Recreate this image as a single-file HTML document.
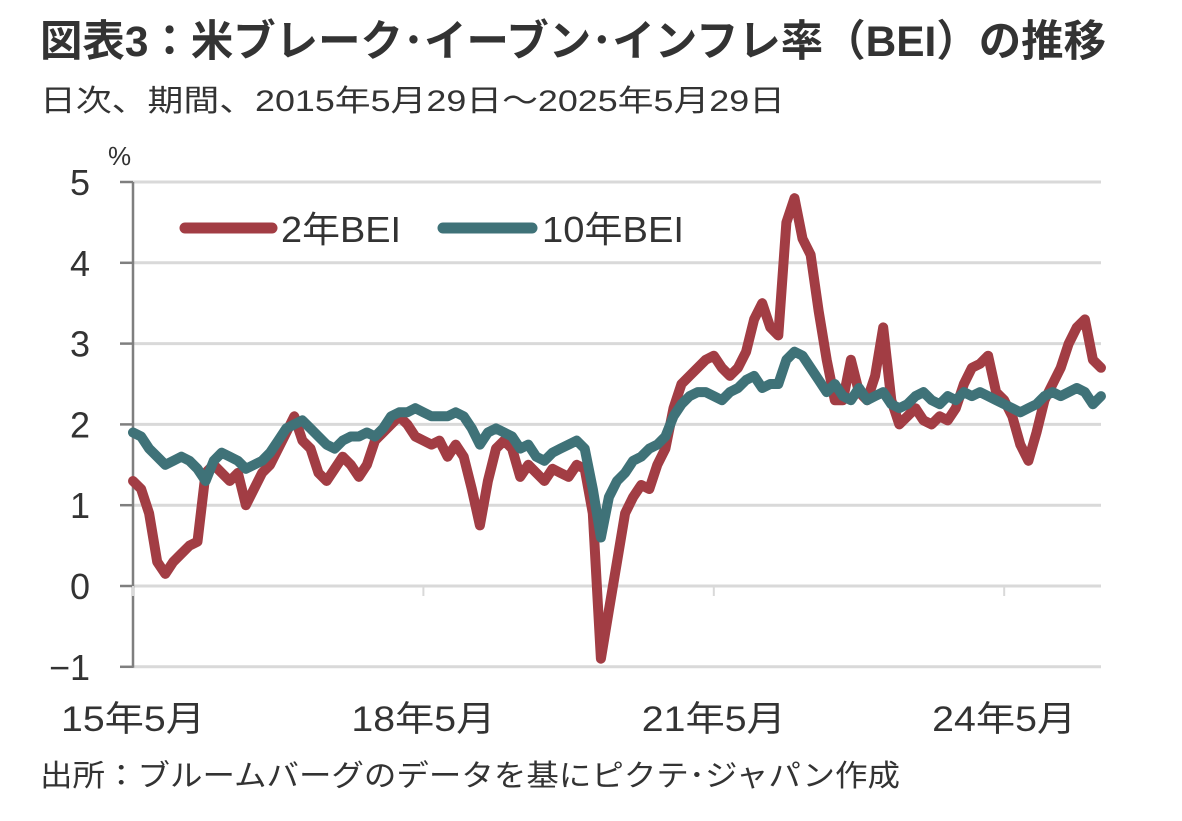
<!DOCTYPE html>
<html><head><meta charset="utf-8"><style>
body{margin:0;background:#fff;width:1182px;height:816px;overflow:hidden;font-family:"Liberation Sans","Noto Sans CJK JP",sans-serif;color:#222}
</style></head><body>
<svg width="1182" height="816" viewBox="0 0 1182 816">
<text x="40" y="56" font-size="43" font-weight="bold" fill="#333" textLength="1066" lengthAdjust="spacingAndGlyphs" font-family="Liberation Sans, Noto Sans CJK JP, sans-serif">図表3：米ブレーク･イーブン･インフレ率（BEI）の推移</text>
<text x="40" y="111" font-size="30" fill="#333" textLength="745" lengthAdjust="spacingAndGlyphs" font-family="Liberation Sans, Noto Sans CJK JP, sans-serif">日次、期間、2015年5月29日～2025年5月29日</text>
<g id="grid"></g><g id="axes"></g><g id="series"></g>
<text x="108" y="165" font-size="26" fill="#333">%</text>
<g>
<line x1="185" y1="228" x2="272" y2="228" stroke="#A23D44" stroke-width="11" stroke-linecap="round"/>
<text x="281" y="242" font-size="36" fill="#333" textLength="120" lengthAdjust="spacingAndGlyphs" font-family="Liberation Sans, Noto Sans CJK JP, sans-serif">2年BEI</text>
<line x1="443" y1="228" x2="532" y2="228" stroke="#3F7278" stroke-width="11" stroke-linecap="round"/>
<text x="542" y="242" font-size="36" fill="#333" textLength="142" lengthAdjust="spacingAndGlyphs" font-family="Liberation Sans, Noto Sans CJK JP, sans-serif">10年BEI</text>
</g>
<text x="40" y="786" font-size="30" fill="#333" textLength="860" lengthAdjust="spacingAndGlyphs" font-family="Liberation Sans, Noto Sans CJK JP, sans-serif">出所：ブルームバーグのデータを基にピクテ･ジャパン作成</text>
</svg>
<script>
const yTicks=[5,4,3,2,1,0,-1];
const xTickLabels=["15年5月","18年5月","21年5月","24年5月"];
const xTickMonths=[0,36,72,108];
const bei2y=[1.3,1.2,0.9,0.3,0.15,0.3,0.4,0.5,0.55,1.4,1.5,1.4,1.3,1.4,1.0,1.2,1.4,1.5,1.7,1.9,2.1,1.8,1.7,1.4,1.3,1.45,1.6,1.5,1.35,1.5,1.8,1.9,2.0,2.1,2.0,1.85,1.8,1.75,1.8,1.6,1.75,1.6,1.2,0.75,1.3,1.7,1.8,1.7,1.35,1.5,1.4,1.3,1.45,1.4,1.35,1.5,1.45,0.9,-0.9,-0.3,0.3,0.9,1.1,1.25,1.2,1.5,1.7,2.2,2.5,2.6,2.7,2.8,2.85,2.7,2.6,2.7,2.9,3.3,3.5,3.2,3.1,4.5,4.8,4.3,4.1,3.4,2.8,2.3,2.3,2.8,2.4,2.3,2.6,3.2,2.3,2.0,2.1,2.2,2.05,2.0,2.1,2.05,2.2,2.5,2.7,2.75,2.85,2.4,2.3,2.1,1.75,1.55,1.9,2.3,2.5,2.7,3.0,3.2,3.3,2.8,2.7];
const bei10y=[1.9,1.85,1.7,1.6,1.5,1.55,1.6,1.55,1.45,1.3,1.55,1.65,1.6,1.55,1.45,1.5,1.55,1.65,1.8,1.95,2.0,2.05,1.95,1.85,1.75,1.7,1.8,1.85,1.85,1.9,1.85,1.95,2.1,2.15,2.15,2.2,2.15,2.1,2.1,2.1,2.15,2.1,1.95,1.75,1.9,1.95,1.9,1.85,1.7,1.75,1.6,1.55,1.65,1.7,1.75,1.8,1.7,1.2,0.6,1.1,1.3,1.4,1.55,1.6,1.7,1.75,1.85,2.1,2.25,2.35,2.4,2.4,2.35,2.3,2.4,2.45,2.55,2.6,2.45,2.5,2.5,2.8,2.9,2.85,2.7,2.55,2.4,2.5,2.35,2.3,2.45,2.3,2.35,2.4,2.25,2.2,2.25,2.35,2.4,2.3,2.25,2.35,2.3,2.4,2.35,2.4,2.35,2.3,2.25,2.2,2.15,2.2,2.25,2.35,2.4,2.35,2.4,2.45,2.4,2.25,2.35];
const NS='http://www.w3.org/2000/svg';
const X=m=>133+m*(968/120);
const Y=v=>586-v*80.8;
function mk(tag,attrs,parent){const e=document.createElementNS(NS,tag);for(const k in attrs)e.setAttribute(k,attrs[k]);parent.appendChild(e);return e;}
const grid=document.getElementById('grid'),axes=document.getElementById('axes'),ser=document.getElementById('series');
yTicks.forEach(v=>{
  if(v!==-1){const g=mk('line',{x1:133,x2:1101,y1:Y(v),y2:Y(v),stroke:'#d9d9d9','stroke-width':3},grid);
  
  }
  const t=mk('line',{x1:120,x2:133,y1:Y(v),y2:Y(v),stroke:'#7f7f7f','stroke-width':2.5},axes);
  
  
  const l=mk('text',{x:90,y:Y(v)+13,'font-size':36,fill:'#333','text-anchor':'end'},axes);
  l.textContent=v<0?'\u2212'+(-v):String(v);
  
  
});
const ax=mk('line',{x1:133,x2:1101,y1:Y(-1),y2:Y(-1),stroke:'#d9d9d9','stroke-width':3},axes);


const yax=mk('line',{x1:133,x2:133,y1:Y(5),y2:Y(-1)+1,stroke:'#7f7f7f','stroke-width':2.5},axes);


xTickMonths.forEach((m,i)=>{
  const t=mk('line',{x1:X(m),x2:X(m),y1:Y(0),y2:Y(0)+10,stroke:'#d9d9d9','stroke-width':2},axes);
  
  
  const l=mk('text',{x:X(m),y:731,'font-size':35,fill:'#333','text-anchor':'middle',textLength:144,lengthAdjust:'spacingAndGlyphs','font-family':'Liberation Sans, Noto Sans CJK JP, sans-serif'},axes);
  l.textContent=xTickLabels[i];
  
  
});
function line(arr,color,name){
  const d=arr.map((v,i)=>(i?'L':'M')+X(i).toFixed(1)+' '+Y(v).toFixed(1)).join(' ');
  const p=mk('path',{d:d,fill:'none',stroke:color,'stroke-width':10,'stroke-linejoin':'round','stroke-linecap':'round'},ser);
  
  
}
line(bei2y,'#A23D44','series-2y-bei');
line(bei10y,'#3F7278','series-10y-bei');
</script>
</body></html>
